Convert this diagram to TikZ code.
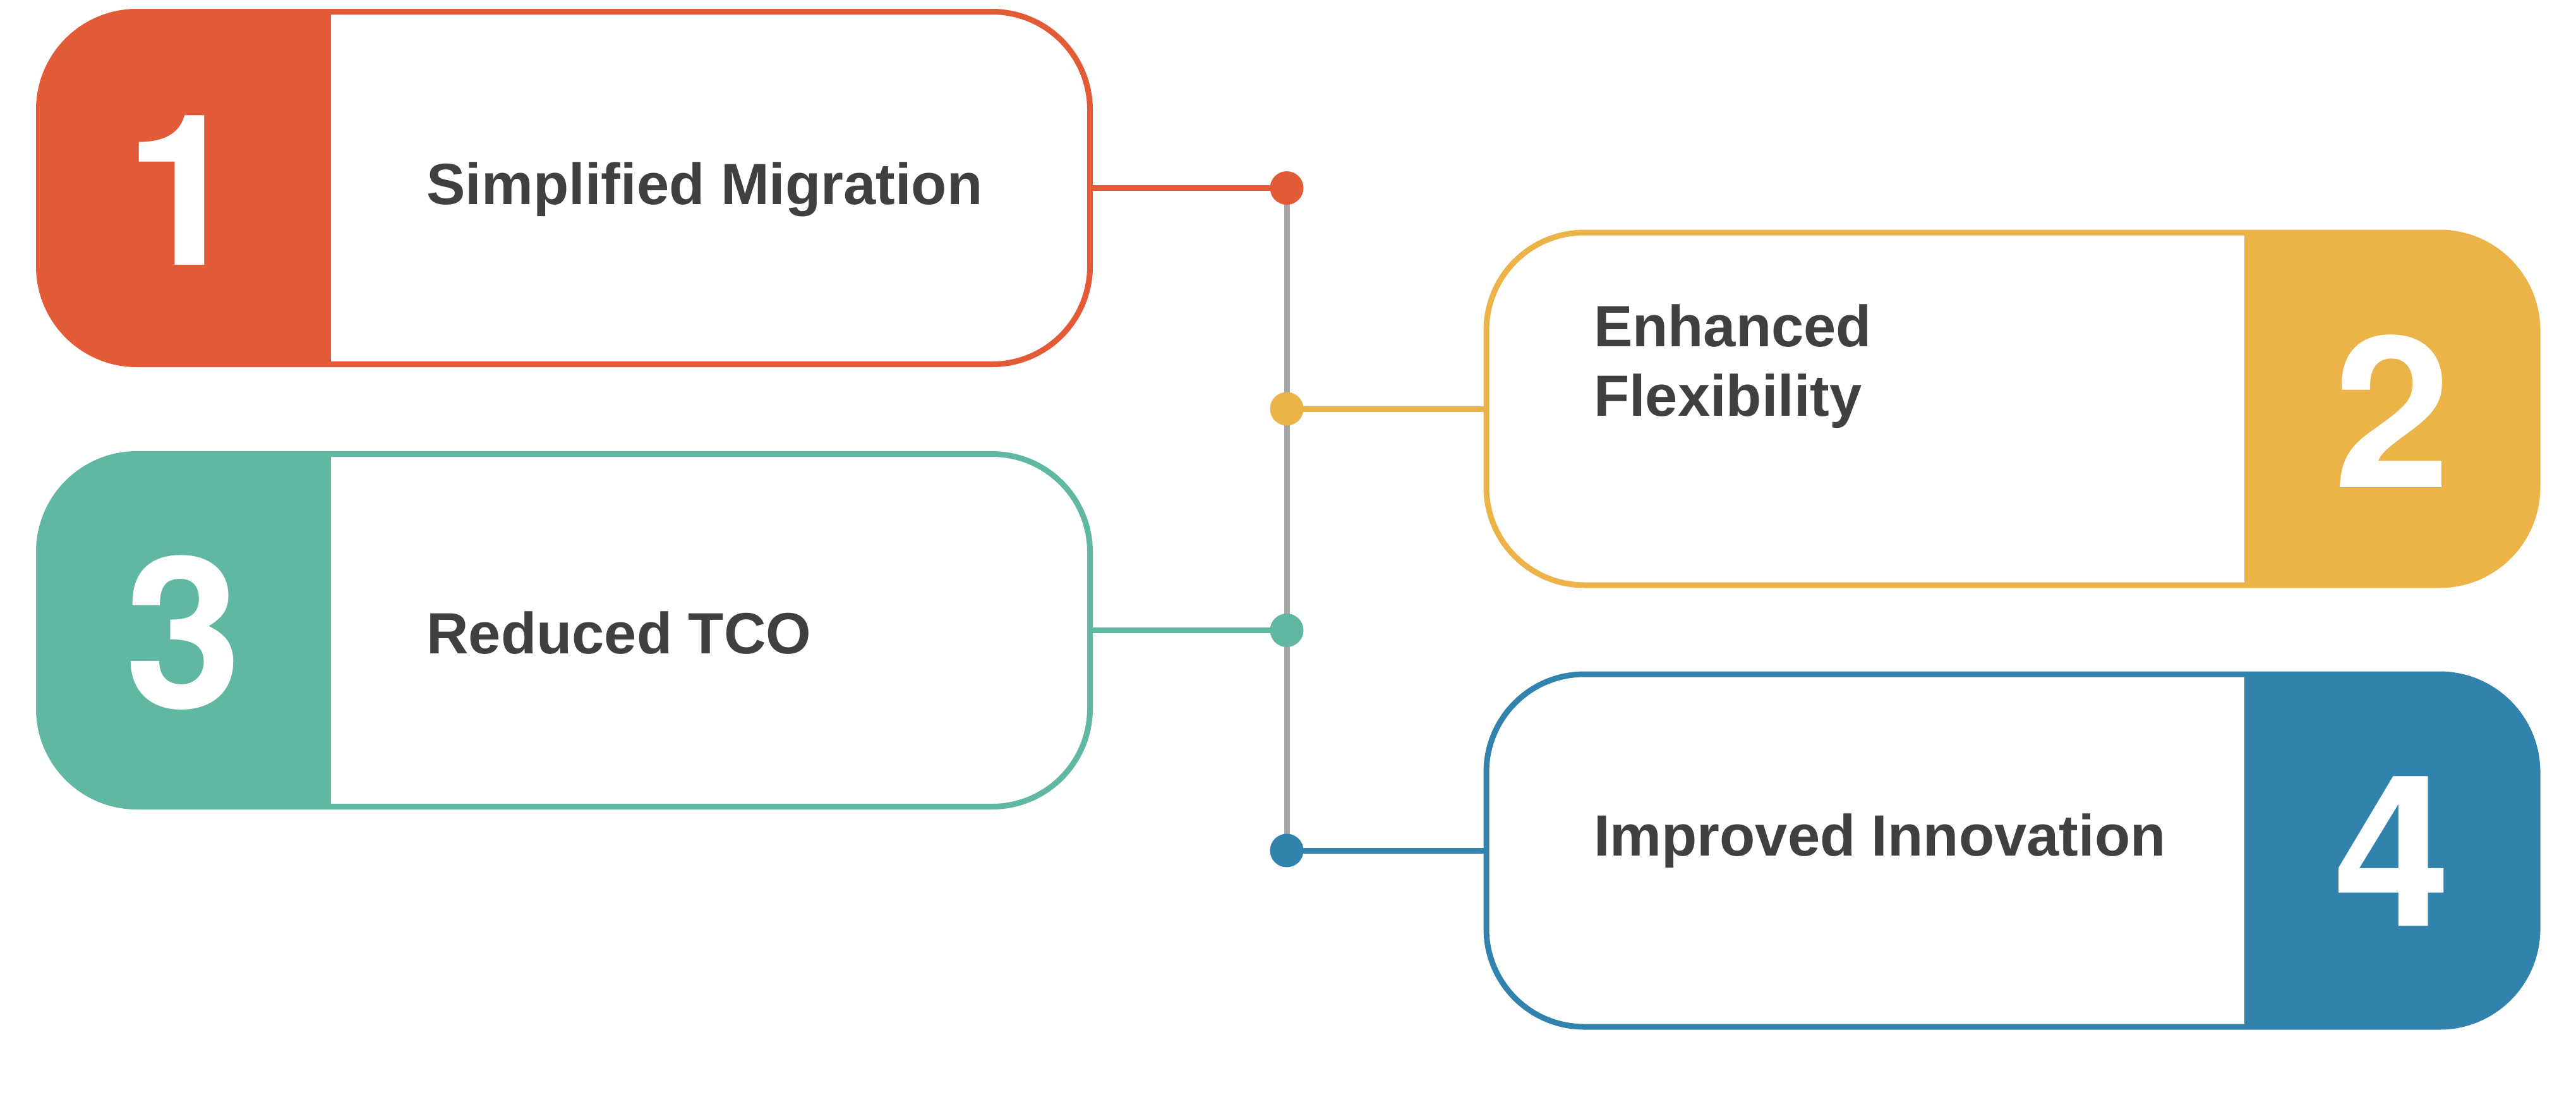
\documentclass[tikz,border=0pt]{standalone}
\usepackage{fontspec}
\setsansfont{Liberation Sans}
\newfontfamily\numfont{TeX Gyre Heros}
\usetikzlibrary{positioning, calc, backgrounds}
\definecolor{cred}{HTML}{E35B36}
\definecolor{cyellow}{HTML}{ECB349}
\definecolor{cteal}{HTML}{60B7A2}
\definecolor{cblue}{HTML}{3182AC}
\definecolor{ctext}{HTML}{404040}
\definecolor{cgrey}{HTML}{A6A6A6}
\tikzset{
  every picture/.style={font=\sffamily\bfseries, line width=0.09cm},
  card/.style={draw=#1, fill=white, rounded corners=1.55cm, minimum width=16.64cm, minimum height=5.58cm, inner sep=0pt},
  cardL/.style={card=#1, path picture={\fill[#1, sharp corners] (path picture bounding box.north west) rectangle ([xshift=4.62cm]path picture bounding box.south west);}},
  cardR/.style={card=#1, path picture={\fill[#1, sharp corners] ([xshift=-4.64cm]path picture bounding box.north east) rectangle (path picture bounding box.south east);}},
  num/.style={text=white, font=\numfont\bfseries\fontsize{95}{95}\selectfont, inner sep=0pt},
  cardtext/.style={text=ctext, font=\sffamily\bfseries\fontsize{26.2}{31.3}\selectfont, align=left, inner sep=0pt, anchor=base west},
  dot/.style={circle, fill=#1, minimum size=0.53cm, inner sep=0pt},
  conn/.style={draw=#1, line width=0.09cm},
  spine/.style={draw=cgrey, line width=0.09cm},
}

\begin{document}
\begin{tikzpicture}
  \useasboundingbox (0,0) rectangle (40.78,-17.43);
  % four cards, the coloured end on the outer side
  \node[cardL=cred]    (c1) at (8.935,-2.975) {};
  \node[cardR=cyellow] (c2) at (31.85,-6.47) {};
  \node[cardL=cteal]   (c3) at (8.935,-9.975) {};
  \node[cardR=cblue]   (c4) at (31.85,-13.46) {};
  % numbers
  \node[num] (n1) at ([xshift=2.33cm, yshift=-0.04cm]c1.west) {1};
  \node[num] (n2) at ([xshift=-2.34cm, yshift=-0.04cm]c2.east) {2};
  \node[num] (n3) at ([xshift=2.33cm, yshift=-0.04cm]c3.west) {3};
  \node[num] (n4) at ([xshift=-2.34cm, yshift=-0.01cm]c4.east) {4};
  % card texts
  \node[cardtext] (t1) at ([xshift=6.14cm, yshift=-0.255cm]c1.west) {Simplified Migration};
  \node[cardtext] (t2) at ([xshift=1.70cm, yshift=-0.11cm]c2.west) {Enhanced\\Flexibility};
  \node[cardtext] (t3) at ([xshift=6.14cm, yshift=-0.37cm]c3.west) {Reduced TCO};
  \node[cardtext] (t4) at ([xshift=1.70cm, yshift=-0.08cm]c4.west) {Improved Innovation};
  % dots on the spine
  \node[dot=cred]    (d1) at (20.37,-2.975) {};
  \node[dot=cyellow] (d2) at (20.37,-6.47) {};
  \node[dot=cteal]   (d3) at (20.37,-9.975) {};
  \node[dot=cblue]   (d4) at (20.37,-13.46) {};
  \begin{scope}[on background layer]
    \draw[spine] (d1.center) -- (d4.center);
    \draw[conn=cred]    (c1.east) -- (d1.center);
    \draw[conn=cyellow] (c2.west) -- (d2.center);
    \draw[conn=cteal]   (c3.east) -- (d3.center);
    \draw[conn=cblue]   (c4.west) -- (d4.center);
  \end{scope}
\end{tikzpicture}
\end{document}
